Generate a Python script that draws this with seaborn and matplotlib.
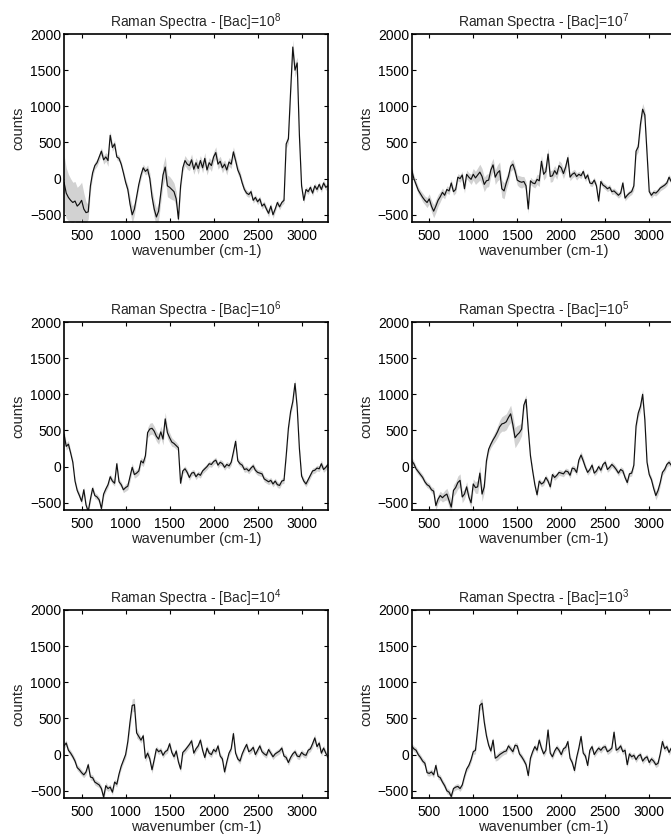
import numpy as np
import matplotlib
matplotlib.use("Agg")
import matplotlib.pyplot as plt
import seaborn as sns

# wavenumber grid (cm-1)
wavenumber = np.arange(300, 3301, 25)

titles = ["Raman Spectra - [Bac]=10$^{8}$", "Raman Spectra - [Bac]=10$^{7}$",
          "Raman Spectra - [Bac]=10$^{6}$", "Raman Spectra - [Bac]=10$^{5}$",
          "Raman Spectra - [Bac]=10$^{4}$", "Raman Spectra - [Bac]=10$^{3}$"]

counts_1e8 = [-50, -200, -260, -300, -330, -310, -380, -350, -300, -420, -470, -460,
              -100, 80, 180, 220, 300, 380, 260, 300, 250, 600, 430, 480,
              300, 280, 200, 80, -50, -150, -350, -500, -420, -250, -80, 50,
              150, 100, 130, 0, -250, -420, -530, -450, -200, 50, 160, -100,
              -120, -150, -180, -280, -560, -100, 150, 250, 200, 180, 260, 130,
              220, 140, 250, 150, 280, 120, 220, 180, 300, 360, 200, 240,
              150, 200, 120, 230, 200, 370, 250, 120, 50, -60, -150, -200,
              -220, -180, -300, -260, -320, -280, -380, -350, -420, -480, -380, -500,
              -420, -330, -390, -330, -300, 480, 550, 1200, 1820, 1500, 1600, 600,
              -100, -300, -150, -180, -120, -200, -100, -150, -80, -150, -60, -120,
              -100]
std_1e8 = [380, 350, 320, 300, 280, 270, 260, 260, 250, 220, 150, 100,
           80, 60, 50, 50, 50, 50, 60, 60, 80, 60, 50, 50,
           40, 40, 40, 40, 50, 60, 100, 120, 80, 60, 50, 50,
           50, 50, 60, 80, 100, 120, 120, 120, 130, 140, 150, 150,
           150, 140, 120, 100, 80, 60, 60, 70, 70, 70, 80, 70,
           70, 80, 70, 70, 80, 70, 70, 80, 70, 80, 70, 70,
           70, 60, 70, 60, 60, 70, 60, 60, 50, 50, 40, 40,
           40, 40, 40, 40, 40, 40, 40, 40, 40, 50, 40, 50,
           40, 40, 40, 40, 40, 60, 60, 80, 100, 100, 80, 60,
           40, 40, 40, 40, 40, 40, 40, 40, 40, 40, 40, 40,
           40]

counts_1e7 = [120, 0, -80, -160, -210, -260, -300, -330, -280, -380, -450, -380,
              -300, -250, -190, -230, -150, -170, -60, -180, -150, 20, 0, 50,
              -140, 60, 20, -10, 60, 10, 50, 90, 30, -80, -30, -20,
              120, 190, 20, 80, 110, -140, -170, -60, 30, 170, 200, 110,
              -20, -40, -50, -40, -100, -420, -30, -60, -70, -10, -30, 240,
              60, 100, 340, 30, 40, 110, 60, 180, 150, 70, 160, 290,
              20, 60, 80, 30, 60, 40, 100, 0, 50, -60, -70, -20,
              -100, -310, -40, -90, -110, -140, -120, -180, -170, -200, -230, -200,
              -60, -270, -230, -200, -180, -100, 380, 440, 750, 960, 880, 350,
              -180, -230, -190, -200, -170, -130, -110, -90, -60, 20, -40, -20,
              0]
std_1e7 = [60, 50, 50, 50, 50, 60, 60, 70, 70, 80, 90, 90,
           80, 70, 60, 50, 50, 50, 50, 50, 50, 50, 50, 50,
           60, 60, 60, 70, 80, 90, 100, 110, 110, 100, 90, 90,
           90, 90, 100, 110, 120, 120, 110, 90, 80, 70, 70, 70,
           70, 80, 80, 70, 60, 60, 50, 50, 60, 70, 80, 80,
           80, 80, 80, 80, 80, 70, 70, 70, 70, 70, 70, 60,
           50, 50, 50, 50, 40, 40, 40, 40, 40, 40, 40, 40,
           40, 40, 40, 40, 40, 40, 40, 40, 40, 40, 40, 40,
           40, 40, 40, 40, 40, 60, 60, 70, 80, 80, 70, 60,
           40, 40, 40, 40, 40, 40, 40, 40, 40, 40, 40, 40,
           40]

counts_1e6 = [450, 280, 310, 190, 60, -200, -330, -400, -480, -320, -530, -620,
              -450, -300, -400, -420, -460, -580, -380, -310, -250, -140, -200, -230,
              40, -210, -250, -320, -290, -270, -140, -10, -110, -90, -60, 80,
              50, 150, 470, 520, 530, 490, 420, 380, 480, 380, 660, 470,
              400, 340, 320, 290, 260, -230, -60, -30, -80, -150, -90, -80,
              -140, -100, -120, -60, -30, 0, 40, 30, 70, 90, 20, 60,
              40, -10, 30, 10, 60, 200, 350, 80, 40, 20, -40, -30,
              -60, -20, 10, -50, -80, -90, -100, -170, -190, -210, -190, -240,
              -200, -250, -260, -200, -190, 150, 530, 760, 900, 1150, 820, 250,
              -130, -200, -240, -180, -120, -60, -50, -20, -30, 40, -40, -10,
              30]
std_1e6 = [60, 50, 50, 40, 40, 40, 40, 40, 40, 40, 40, 40,
           40, 40, 40, 40, 40, 40, 40, 40, 40, 40, 40, 40,
           40, 40, 40, 40, 50, 50, 60, 60, 50, 50, 50, 50,
           50, 60, 70, 80, 80, 70, 70, 70, 80, 80, 90, 80,
           70, 60, 50, 50, 40, 40, 40, 40, 40, 40, 40, 40,
           40, 40, 40, 40, 40, 40, 40, 40, 40, 40, 40, 40,
           40, 40, 40, 40, 40, 50, 50, 40, 40, 40, 40, 40,
           40, 40, 40, 40, 40, 40, 40, 40, 40, 40, 40, 40,
           40, 40, 40, 40, 40, 40, 50, 50, 60, 60, 50, 40,
           40, 40, 40, 40, 40, 40, 40, 40, 40, 50, 40, 40,
           40]

counts_1e5 = [80, 40, -30, -70, -110, -150, -210, -250, -270, -320, -340, -540,
              -450, -400, -430, -400, -380, -470, -560, -330, -290, -220, -190, -420,
              -380, -280, -420, -500, -240, -290, -280, -90, -380, -280, 80, 240,
              310, 370, 420, 480, 550, 590, 600, 620, 680, 730, 580, 400,
              440, 470, 520, 850, 930, 520, 150, -60, -250, -390, -200, -240,
              -220, -150, -200, -280, -110, -150, -120, -80, -90, -100, -60, -70,
              -120, -20, -30, -80, 90, 160, 80, -10, -80, -40, 20, -90,
              -60, 0, -50, 30, 60, -40, -10, 30, 0, -40, -90, -40,
              -60, -150, -220, -100, -90, 20, 560, 740, 830, 1000, 650, 60,
              -110, -180, -300, -400, -330, -220, -80, -40, 30, 60, 20, 50,
              40]
std_1e5 = [50, 40, 40, 40, 40, 40, 40, 40, 40, 40, 50, 60,
           60, 60, 60, 70, 80, 90, 90, 80, 80, 90, 90, 80,
           70, 70, 70, 70, 70, 80, 90, 100, 100, 80, 60, 50,
           50, 60, 70, 80, 90, 100, 110, 110, 110, 120, 130, 140,
           130, 110, 90, 70, 60, 50, 40, 40, 40, 40, 40, 40,
           40, 40, 40, 40, 40, 40, 40, 40, 40, 40, 40, 40,
           40, 40, 40, 40, 40, 50, 50, 40, 40, 40, 40, 40,
           40, 40, 40, 40, 40, 40, 40, 40, 40, 40, 40, 40,
           40, 40, 40, 40, 40, 40, 60, 60, 70, 70, 60, 40,
           40, 40, 50, 60, 60, 50, 40, 40, 40, 40, 40, 40,
           40]

counts_1e4 = [120, 160, 60, 20, -30, -90, -180, -210, -250, -280, -240, -140,
              -310, -320, -380, -400, -420, -470, -590, -430, -470, -450, -520, -380,
              -410, -270, -160, -80, 0, 180, 450, 680, 690, 300, 250, 200,
              260, -50, 20, -60, -210, -70, 80, 40, 60, -10, 40, 60,
              150, 30, -30, 50, -100, -200, 30, 60, 100, 140, 190, 20,
              80, 120, 200, 60, -40, 90, 20, 0, 70, 40, 120, -20,
              -60, -240, -100, 20, 80, 290, 20, -60, -90, 10, 80, 140,
              40, 60, 100, 0, 60, 120, 40, 10, -10, 70, 20, -30,
              10, 30, 50, 90, -20, -40, -110, -40, 10, 40, -20, -30,
              30, 0, -10, 60, 80, 150, 230, 110, 160, 20, 90, 20,
              -40]
std_1e4 = [40, 40, 40, 40, 40, 40, 40, 40, 40, 40, 40, 40,
           40, 40, 40, 40, 40, 40, 50, 50, 40, 40, 40, 40,
           40, 40, 40, 40, 50, 60, 80, 90, 90, 70, 50, 40,
           40, 50, 50, 50, 50, 40, 40, 40, 40, 40, 40, 40,
           40, 40, 40, 40, 40, 40, 40, 40, 40, 40, 40, 40,
           40, 40, 40, 40, 40, 40, 40, 40, 40, 40, 40, 40,
           40, 40, 40, 40, 40, 50, 40, 40, 40, 40, 40, 40,
           40, 40, 40, 40, 40, 40, 40, 40, 40, 40, 40, 40,
           40, 40, 40, 40, 40, 40, 40, 40, 40, 40, 40, 40,
           40, 40, 40, 40, 40, 50, 50, 40, 40, 40, 40, 40,
           40]

counts_1e3 = [120, 80, 60, 0, -40, -90, -120, -250, -260, -240, -280, -150,
              -300, -320, -380, -430, -500, -520, -580, -470, -450, -440, -470, -420,
              -300, -200, -150, -70, 40, 60, 350, 680, 710, 450, 260, 130,
              50, 200, -50, -30, 0, 20, 40, 50, 120, 80, 40, 130,
              120, 10, -30, -80, -140, -290, -50, 40, 110, 60, 200, 90,
              10, 60, 340, 20, -30, 50, 100, 60, 0, 80, 100, 180,
              -50, -110, -220, -40, 90, 250, 20, -20, -150, 60, 110, 0,
              50, 90, 60, 100, 110, 40, 60, 90, 310, 60, 80, 120,
              40, 60, -140, 10, -30, -10, -70, -20, 0, -90, -50, -30,
              -110, -60, -90, -140, -120, 10, 180, 80, 110, 30, 90, 10,
              40]
std_1e3 = [40, 40, 40, 40, 40, 40, 40, 40, 40, 40, 40, 40,
           40, 40, 40, 40, 40, 40, 50, 40, 40, 40, 40, 40,
           40, 40, 40, 40, 40, 50, 60, 70, 70, 60, 50, 40,
           40, 40, 40, 50, 50, 40, 40, 40, 40, 40, 40, 40,
           40, 40, 40, 40, 40, 40, 40, 40, 40, 40, 40, 40,
           40, 40, 40, 40, 40, 40, 40, 40, 40, 40, 40, 40,
           40, 40, 40, 40, 40, 40, 40, 40, 40, 40, 40, 40,
           40, 40, 40, 40, 40, 40, 40, 40, 40, 40, 40, 40,
           40, 40, 40, 40, 40, 40, 40, 40, 40, 40, 40, 40,
           40, 40, 40, 40, 40, 40, 50, 40, 40, 40, 40, 40,
           40]

spectra = [counts_1e8, counts_1e7, counts_1e6, counts_1e5, counts_1e4, counts_1e3]
spreads = [std_1e8, std_1e7, std_1e6, std_1e5, std_1e4, std_1e3]

sns.set_theme(style="ticks")
plt.rcParams['font.family'] = ['Liberation Sans', 'DejaVu Sans']
plt.rcParams['mathtext.fontset'] = 'custom'
plt.rcParams['mathtext.rm'] = 'Liberation Sans'
plt.rcParams['mathtext.it'] = 'Liberation Sans'
plt.rcParams['font.size'] = 10

fig = plt.figure(figsize=(6.71, 8.34), dpi=100)

col_left = [0.0954, 0.6135]
row_bottom = [0.7338, 0.3885, 0.0432]
w, h = 0.3934, 0.2254

for i in range(6):
    ax = fig.add_axes([col_left[i % 2], row_bottom[i // 2], w, h])
    y = np.array(spectra[i])
    s = np.array(spreads[i])
    ax.fill_between(wavenumber, y - s, y + s, color='#d2d2d2', linewidth=0)
    sns.lineplot(x=wavenumber, y=y, ax=ax, color='#111111', linewidth=0.85)
    ax.set_xlim(300, 3300)
    ax.set_ylim(-600, 2000)
    ax.set_xticks([500, 1000, 1500, 2000, 2500, 3000])
    ax.set_yticks([-500, 0, 500, 1000, 1500, 2000])
    ax.tick_params(direction='in', top=True, right=True, length=3, width=0.8,
                   labelsize=10, colors='black')
    ax.tick_params(axis='x', pad=5)
    ax.tick_params(axis='y', pad=2)
    for sp in ax.spines.values():
        sp.set_linewidth(1.2)
        sp.set_color('black')
    ax.set_title(titles[i], fontsize=10, pad=5)
    ax.set_xlabel('wavenumber (cm-1)', fontsize=10.5, labelpad=1)
    ax.set_ylabel('counts', fontsize=10.5, labelpad=3)

fig.savefig('out.png', dpi=100)
